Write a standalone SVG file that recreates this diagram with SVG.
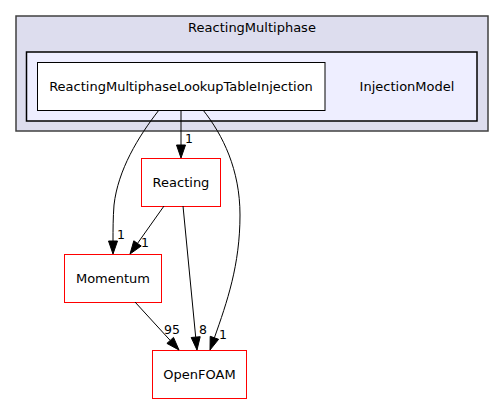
<svg xmlns="http://www.w3.org/2000/svg" width="504" height="404" viewBox="0 0 504 404">
<style>
text{font-family:"DejaVu Sans","Liberation Sans",sans-serif;font-size:13px;fill:#000}
.c{text-anchor:middle}
.l{font-size:12.5px}
.n{fill:#fff;stroke:red;stroke-width:1}
.e{fill:none;stroke:#000;stroke-width:1}
.a{fill:#000;stroke:#000;stroke-width:1}
</style>
<rect width="504" height="404" fill="#fff"/>
<g id="cluster_ReactingMultiphase">
<rect x="16" y="16" width="472" height="115" fill="#ddddee" stroke="#404040" stroke-width="1.5"/>
<text class="c" x="252" y="32">ReactingMultiphase</text>
</g>
<g id="cluster_InjectionModel">
<rect x="26.5" y="52" width="450.5" height="69" fill="#eeeeff" stroke="#000" stroke-width="1.5"/>
<text class="c" x="407" y="90.5">InjectionModel</text>
</g>
<g id="node_ReactingMultiphaseLookupTableInjection">
<rect x="37.5" y="62.5" width="287.5" height="48" fill="#fff" stroke="#000"/>
<text class="c" x="181" y="90.5">ReactingMultiphaseLookupTableInjection</text>
</g>
<g id="node_Reacting">
<rect class="n" x="141.5" y="158.5" width="79" height="48"/>
<text class="c" x="181" y="186.5">Reacting</text>
</g>
<g id="node_Momentum">
<rect class="n" x="64.5" y="254.5" width="97" height="48"/>
<text class="c" x="113" y="282.5">Momentum</text>
</g>
<g id="node_OpenFOAM">
<rect class="n" x="152.5" y="350.5" width="94" height="48"/>
<text class="c" x="199.5" y="378.5">OpenFOAM</text>
</g>
<g id="connectors">
<path class="e" d="M181,110 L181,145"/>
<polygon class="a" points="176.5,145 181,158 185.5,145"/>
<text class="l" x="185" y="143">1</text>
<path class="e" d="M159,110 C138,137 118,170 114,205 C113,218 113,230 113,241"/>
<polygon class="a" points="108.5,241 113,254 117.5,241"/>
<text class="l" x="117" y="239">1</text>
<path class="e" d="M203,110 C223,135 240,170 240,215 C240,265 227,302 214.4,337.8"/>
<polygon class="a" points="218.6,339.3 210,350 210.2,336.3"/>
<text class="l" x="219" y="339">1</text>
<path class="e" d="M164,206 L137.5,243.4"/>
<polygon class="a" points="141.2,246 130,254 133.8,240.8"/>
<text class="l" x="141" y="247">1</text>
<path class="e" d="M183,206 L195.7,337.1"/>
<polygon class="a" points="200.2,336.7 197,350 191.2,337.5"/>
<text class="l" x="199" y="334">8</text>
<path class="e" d="M135,302 L170.2,340.4"/>
<polygon class="a" points="173.5,337.4 179,350 166.9,343.4"/>
<text class="l" x="164" y="334">95</text>
</g>
</svg>
